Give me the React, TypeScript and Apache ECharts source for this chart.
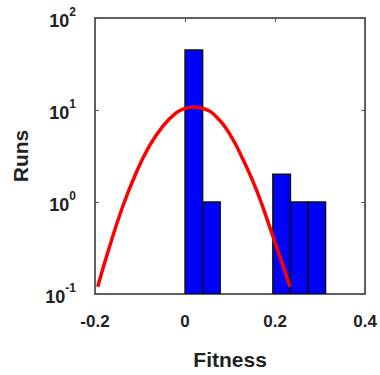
import React, { useEffect, useRef } from "react";
import * as echarts from "echarts";

// Histogram bins: [binStart, binEnd, runs]
const binStarts = [0.0, 0.039, 0.195, 0.234, 0.273];
const binEnds = [0.039, 0.078, 0.234, 0.273, 0.312];
const binCounts = [45, 1, 2, 1, 1];

// Fitted curve
const curveX = [-0.194, -0.17, -0.14, -0.11, -0.08, -0.05, -0.02, 0.0, 0.02, 0.04, 0.07, 0.1, 0.13, 0.16, 0.19, 0.215, 0.233];
const curveY = [0.12, 0.3, 0.85, 2.0, 4.0, 6.6, 9.3, 10.4, 10.8, 10.4, 8.4, 5.4, 2.8, 1.3, 0.5, 0.22, 0.12];

const xTicks = [-0.2, 0, 0.2, 0.4];
const yMin = 0.1;
const yMax = 100;

const FONT = "'Liberation Sans', Arial, sans-serif";

export default function App() {
  const ref = useRef<HTMLDivElement>(null);
  useEffect(() => {
    if (!ref.current) return;
    const chart = echarts.init(ref.current, null, { renderer: "svg" });
    const bars = binStarts.map((s, i) => [s, binEnds[i], binCounts[i]]);
    const curve = curveX.map((x, i) => [x, curveY[i]]);
    const axisColor = "#555";
    const yLabelFmt = (v: number) => {
      const e = Math.round(Math.log10(v));
      return `{b|10}{e|${e}}`;
    };
    const rich = {
      b: { fontSize: 18, fontWeight: "bold", fontFamily: FONT, color: "#222", lineHeight: 24, verticalAlign: "bottom" },
      e: { fontSize: 12, fontWeight: "bold", fontFamily: FONT, color: "#222", lineHeight: 24, verticalAlign: "top" },
    };
    const lineStyle = { color: axisColor, width: 1.5 };
    chart.setOption({
      animation: false,
      grid: { left: 95, right: 14, top: 18, bottom: 77, show: true, borderColor: axisColor, borderWidth: 1.5, backgroundColor: "#fff" },
      xAxis: [
        {
          type: "value",
          min: xTicks[0],
          max: xTicks[xTicks.length - 1],
          interval: 0.2,
          name: "Fitness",
          nameLocation: "middle",
          nameGap: 55,
          nameTextStyle: { fontSize: 21, fontWeight: "bold", fontFamily: FONT, color: "#222" },
          axisLine: { show: true, onZero: false, lineStyle },
          axisTick: { show: true, inside: true, length: 4, lineStyle: { color: axisColor } },
          axisLabel: {
            margin: 19,
            fontSize: 17,
            fontWeight: "bold",
            fontFamily: FONT,
            color: "#222",
            formatter: (v: number) => (Math.abs(v) < 1e-9 ? "0" : String(Math.round(v * 10) / 10)),
          },
          splitLine: { show: false },
        },
        {
          type: "value",
          position: "top",
          min: xTicks[0],
          max: xTicks[xTicks.length - 1],
          interval: 0.2,
          axisLine: { show: true, onZero: false, lineStyle },
          axisTick: { show: true, inside: true, length: 4, lineStyle: { color: axisColor } },
          axisLabel: { show: false },
          splitLine: { show: false },
        },
      ],
      yAxis: [
        {
          type: "log",
          logBase: 10,
          min: yMin,
          max: yMax,
          name: "Runs",
          nameLocation: "middle",
          nameGap: 64,
          nameTextStyle: { fontSize: 21, fontWeight: "bold", fontFamily: FONT, color: "#222" },
          axisLine: { show: true, onZero: false, lineStyle },
          axisTick: { show: true, inside: true, length: 4, lineStyle: { color: axisColor } },
          axisLabel: { margin: 19, formatter: yLabelFmt, rich },
          splitLine: { show: false },
          minorTick: { show: false },
        },
        {
          type: "log",
          logBase: 10,
          position: "right",
          min: yMin,
          max: yMax,
          axisLine: { show: true, onZero: false, lineStyle },
          axisTick: { show: true, inside: true, length: 4, lineStyle: { color: axisColor } },
          axisLabel: { show: false },
          splitLine: { show: false },
        },
      ],
      series: [
        {
          type: "custom",
          data: bars,
          clip: true,
          renderItem: (params: any, api: any) => {
            const x0 = api.value(0);
            const x1 = api.value(1);
            const c = api.value(2);
            const p0 = api.coord([x0, c]);
            const p1 = api.coord([x1, yMin]);
            return {
              type: "rect",
              shape: { x: p0[0], y: p0[1], width: p1[0] - p0[0], height: p1[1] - p0[1] },
              style: { fill: "#0000ff", stroke: "#111", lineWidth: 1.5 },
            };
          },
          encode: { x: [0, 1], y: 2 },
          z: 2,
        },
        {
          type: "line",
          data: curve,
          smooth: true,
          showSymbol: false,
          symbol: "none",
          lineStyle: { color: "#ff0000", width: 3.5 },
          z: 3,
        },
      ],
    });
    return () => chart.dispose();
  }, []);
  return <div ref={ref} style={{ position: "absolute", left: 0, top: 0, width: 380, height: 375 }} />;
}
